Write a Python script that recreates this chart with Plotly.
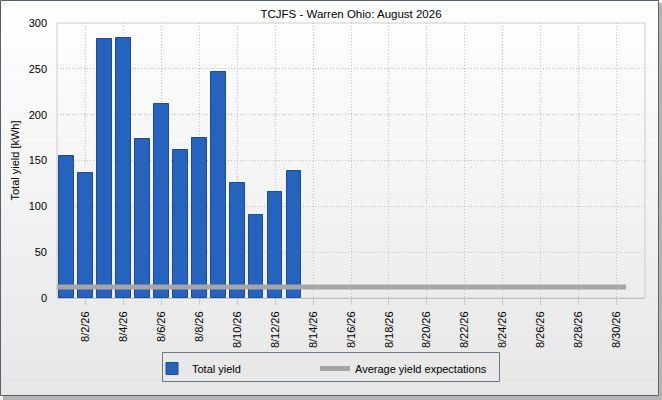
import plotly.graph_objects as go

# ---- data ----
dates = [f"2026-08-{d:02d}" for d in range(1, 32)]
yield_dates = dates[:13]
total_yield = [155, 136, 283, 284, 173, 212, 161, 175, 247, 125, 91, 116, 139]
avg_expectation = [12] * 31
title_text = "TCJFS - Warren Ohio: August 2026"
y_title = "Total yield [kWh]"

FONT = "Liberation Sans"
W, H = 662, 400
ML, MR, MT, MB = 57, 17, 23, 102
PW, PH = W - ML - MR, H - MT - MB


def px_x(p):
    return (p - ML) / PW


def px_y(p):
    return 1 - (p - MT) / PH


shapes = []
# drop shadow of the outer frame
shapes.append(dict(type="rect", xref="paper", yref="paper",
                   x0=px_x(3), x1=px_x(W), y0=px_y(H), y1=px_y(3),
                   fillcolor="#b4b4b4", line=dict(width=0), layer="below"))
# vertical gradient background, built from thin bands
N = 50
top_c, bot_c = (255, 255, 255), (231, 231, 231)
for i in range(N):
    t = i / (N - 1)
    c = tuple(round(top_c[k] + (bot_c[k] - top_c[k]) * t) for k in range(3))
    y0p = 1 + (H - 5) * i / N
    y1p = min(1 + (H - 5) * (i + 1) / N + 0.6, H - 4)
    shapes.append(dict(type="rect", xref="paper", yref="paper",
                       x0=px_x(1), x1=px_x(W - 4), y0=px_y(y1p), y1=px_y(y0p),
                       fillcolor="rgb(%d,%d,%d)" % c, line=dict(width=0), layer="below"))
# outer frame
shapes.append(dict(type="rect", xref="paper", yref="paper",
                   x0=px_x(0.5), x1=px_x(W - 3.5), y0=px_y(H - 4.5), y1=px_y(0.5),
                   line=dict(color="#56616b", width=1), layer="below"))
# plot frame
shapes.append(dict(type="rect", xref="paper", yref="paper", x0=0, y0=0, x1=1, y1=1,
                   line=dict(color="#cccccc", width=1), layer="below"))
# legend box
shapes.append(dict(type="rect", xref="paper", yref="paper",
                   x0=px_x(162.5), x1=px_x(499.5), y0=px_y(381.5), y1=px_y(352.5),
                   line=dict(color="#6b7987", width=1), layer="below"))

fig = go.Figure()
fig.add_trace(go.Bar(
    x=yield_dates, y=total_yield, name="Total yield",
    xperiod=86400000, xperiodalignment="middle",
    width=0.77 * 86400000, legend="legend",
    marker=dict(color="#2563be", line=dict(color="#1d4c93", width=1)),
))
fig.add_trace(go.Scatter(
    x=dates, y=avg_expectation, name="Average yield expectations",
    mode="lines", line=dict(color="#a6a6a6", width=5), legend="legend2",
))

leg_common = dict(orientation="h", xanchor="left", y=px_y(354), yanchor="top",
                  borderwidth=0, bgcolor="rgba(0,0,0,0)", itemwidth=30,
                  font=dict(size=11))

fig.update_layout(
    width=W, height=H,
    margin=dict(l=ML, r=MR, t=MT, b=MB, pad=0, autoexpand=False),
    paper_bgcolor="#f1f1f1",
    plot_bgcolor="rgba(0,0,0,0)",
    font=dict(family=FONT, size=11, color="#000000"),
    title=dict(text=title_text, x=(ML + PW / 2) / W, xanchor="center",
               y=1 - 14 / H, yanchor="middle", font=dict(size=11.5)),
    shapes=shapes,
    showlegend=True,
    legend=dict(x=px_x(152), **leg_common),
    legend2=dict(x=px_x(315), **leg_common),
    bargap=0,
)
fig.update_xaxes(
    type="date", range=["2026-08-01", "2026-09-01"],
    tick0="2026-08-02 12:00", dtick=2 * 86400000, tickformat="%-m/%-d/%y",
    tickangle=-90, ticks="outside", ticklen=6, tickcolor="#c8c8c8",
    showgrid=True, gridcolor="#c4c4c4", griddash="1px,2px", gridwidth=1,
    showline=True, linecolor="#b9c4cc", linewidth=1,
    tickfont=dict(size=11), zeroline=False, ticklabelstandoff=2,
    automargin=False,
)
fig.update_yaxes(
    range=[0, 300], dtick=50, ticks="", showgrid=True, gridcolor="#c4c4c4",
    griddash="1px,2px", gridwidth=1, zeroline=False, showline=False,
    tickfont=dict(size=11), ticklabelstandoff=9,
    title=dict(text=y_title, standoff=6, font=dict(size=11)),
    automargin=False,
)

fig.write_html("out.html",
               config={"displayModeBar": False},
               post_script="document.body.style.margin='0';document.body.style.padding='0';")
